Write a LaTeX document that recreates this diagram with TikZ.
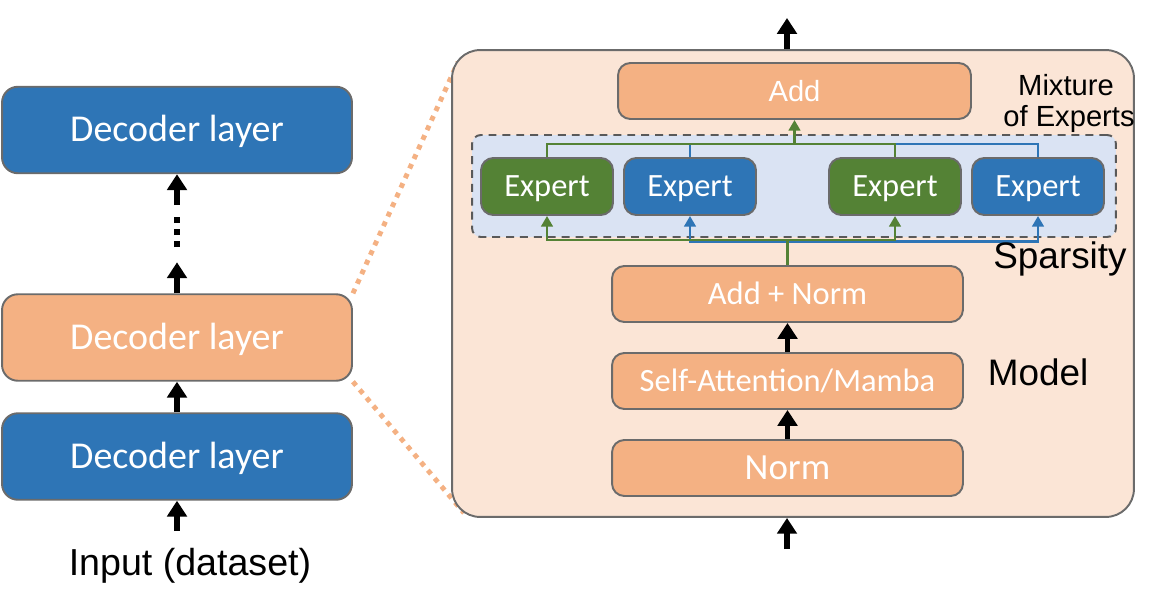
\documentclass[tikz,border=0pt]{standalone}
\usepackage{fontspec}
\newfontfamily\carlito{Carlito}
\newfontfamily\arialfont{Liberation Sans}
\usetikzlibrary{positioning, calc, arrows.meta}
\definecolor{myblue}{HTML}{2E75B6}
\definecolor{myorange}{HTML}{F4B183}
\definecolor{mygreen}{HTML}{548235}
\definecolor{mypeach}{HTML}{FBE5D6}
\definecolor{mysky}{HTML}{DAE3F3}
\definecolor{myedge}{HTML}{6B6B6B}
\definecolor{mydash}{HTML}{595959}
\tikzset{
  my box/.style={draw=myedge,line width=1.1pt,text=white,inner sep=0pt,text depth=0pt},
  decoder/.style={my box,fill=#1,rounded corners=9pt,minimum width=7cm,minimum height=1.73cm,
    font=\carlito\fontsize{21.6}{24}\selectfont,text height=13.6pt},
  stage/.style={my box,fill=myorange,rounded corners=7pt,minimum width=7.02cm,minimum height=1.12cm,
    font=\carlito\fontsize{18.5}{22}\selectfont,text height=11.7pt},
  expert/.style={my box,fill=#1,rounded corners=7pt,minimum width=2.64cm,minimum height=1.14cm,
    font=\carlito\fontsize{18.5}{22}\selectfont,text height=11.7pt},
  panel/.style={draw=myedge,line width=1.1pt,fill=mypeach,rounded corners=16pt,
    minimum width=13.64cm,minimum height=9.34cm,inner sep=0pt},
  moe box/.style={draw=mydash,fill=mysky,line width=1.1pt,dash pattern=on 4.5pt off 3.4pt,
    rounded corners=5pt,minimum width=12.88cm,minimum height=2.04cm,inner sep=0pt},
  my label/.style={anchor=base,font=\arialfont\fontsize{#1}{#1}\selectfont},
  big arrow/.style={line width=3pt,-{Triangle[length=9pt,width=11pt]}},
  thin arrow/.style={draw=#1,line width=1.5pt,-{Triangle[length=6pt,width=6.5pt]}},
  thin line/.style={draw=#1,line width=1.5pt},
  zoom line/.style={myorange,line width=2.8pt,dash pattern=on 2.8pt off 3.2pt}
}
\begin{document}
\begin{tikzpicture}[x=0.02cm,y=-0.02cm]
\useasboundingbox (0,0) rectangle (1156,608);

% decoder stack
\node[decoder=myblue]   (dec1) at (177,456.5) {Decoder layer};
\node[decoder=myorange] (dec2) at (177,337.5) {Decoder layer};
\node[decoder=myblue]   (dec3) at (177,130)   {Decoder layer};
\node[my label=21.4]    (input) at (190,575)  {Input (dataset)};

\coordinate (inLeft) at (177,531);
\coordinate (dotLo)  at (177,247);
\coordinate (dotHi)  at (177,217);
\coordinate (gapHi)  at (177,205);
\draw[big arrow] (inLeft) -- (dec1.south);
\draw[big arrow] (dec1.north) -- (dec2.south);
\draw[big arrow] (dec2.north) -- ++(0,-31);
\draw[line width=3pt,dash pattern=on 3.4pt off 3.4pt] (dotLo) -- (dotHi);
\draw[big arrow] (gapHi) -- (dec3.south);

% zoom lines
\coordinate (zoomTop) at (458,62);
\coordinate (zoomBot) at (464,513);
\draw[zoom line] (dec2.north east) -- (zoomTop);
\draw[zoom line] (dec2.south east) -- (zoomBot);

% layer detail
\node[panel]   (panel) at (793,283.5) {};
\node[moe box] (moe)   at (794,186)   {};

\node[stage,minimum width=7.06cm,font=\arialfont\fontsize{16.6}{20}\selectfont,text height=11.9pt]
  (add) at (794.5,91) {Add};
\node[stage] (addnorm) at (787.5,294) {Add + Norm};
\node[stage] (attn)    at (787.5,381) {Self-Attention/Mamba};
\node[stage,font=\carlito\fontsize{21}{24}\selectfont,text height=13.3pt]
  (norm) at (787.5,468) {Norm};

\foreach \n/\x/\c in {G1/547/mygreen, B1/690/myblue, G2/895/mygreen, B2/1038/myblue}
  \node[expert=\c] (ex\n) at (\x,186.5) {Expert};

% black arrows
\coordinate (outTop)  at (787,18);
\coordinate (inPanel) at (787,549);
\draw[big arrow] (inPanel) -- (inPanel |- panel.south);
\draw[big arrow] (norm.north) -- (attn.south);
\draw[big arrow] (attn.north) -- (addnorm.south);
\draw[big arrow] (outTop |- panel.north) -- (outTop);

% routing
\coordinate (split) at (787.5,240);
\coordinate (merge) at (794.5,144);
\foreach \n in {B1,B2}
  \draw[thin arrow=myblue] ($(split)+(0,1.5)$) -| (ex\n.south);
\foreach \n in {G1,G2}
  \draw[thin arrow=mygreen] (split) -| (ex\n.south);
\draw[thin line=mygreen] (addnorm.north) -- (split);
\draw[thin line=myblue]  (exB1.north) -- (exB1.north |- merge) -| (exB2.north);
\draw[thin line=mygreen] (exG1.north) -- (exG1.north |- merge) -| (exG2.north);
\draw[thin arrow=mygreen] (merge) -- (add.south);

% labels
\node[my label=16.6] (moe1)     at (1066,95)  {Mixture};
\node[my label=16.6] (moe2)     at (1069,127) {of Experts};
\node[my label=21]   (sparsity) at (1060,268) {Sparsity};
\node[my label=21]   (model)    at (1038,385) {Model};
\end{tikzpicture}
\end{document}
